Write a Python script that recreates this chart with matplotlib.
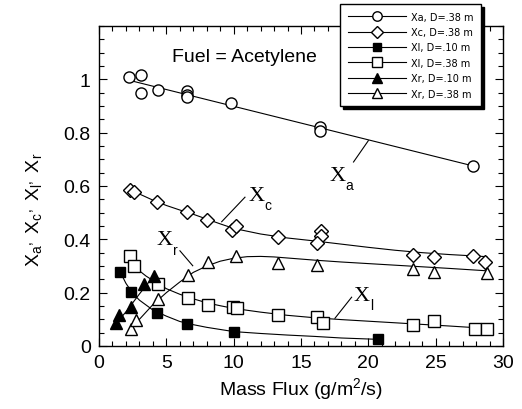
import matplotlib
matplotlib.use('Agg')
import matplotlib.pyplot as plt
from matplotlib.lines import Line2D
from matplotlib.ticker import MultipleLocator, FixedLocator, FixedFormatter

plt.rcParams['font.family'] = ['Liberation Sans', 'DejaVu Sans']
plt.rcParams['mathtext.fontset'] = 'custom'
plt.rcParams['mathtext.rm'] = 'Liberation Sans'
plt.rcParams['mathtext.it'] = 'Liberation Sans'

# ---------------- data ----------------
xa_x = [2.2, 3.15, 3.15, 4.4, 6.5, 6.5, 6.5, 9.8, 16.4, 16.4, 27.8]
xa_y = [1.007, 1.017, 0.95, 0.96, 0.955, 0.942, 0.932, 0.91, 0.822, 0.808, 0.675]
xa_fit_x = [2.2, 27.8]
xa_fit_y = [0.997, 0.675]

xc_x = [2.3, 2.6, 4.3, 6.55, 8.05, 9.9, 10.15, 13.3, 16.5, 16.5, 16.2, 23.3, 24.9, 27.8, 28.65]
xc_y = [0.586, 0.576, 0.541, 0.501, 0.474, 0.436, 0.449, 0.41, 0.432, 0.414, 0.386, 0.341, 0.335, 0.339, 0.316]
xc_fit_x = [2.3, 3, 4, 5, 6, 7, 8, 9, 10, 12, 14, 16, 18, 20, 22, 24, 26, 28.8]
xc_fit_y = [0.588, 0.570, 0.547, 0.527, 0.510, 0.494, 0.476, 0.458, 0.441, 0.420, 0.405, 0.394,
            0.382, 0.370, 0.359, 0.350, 0.343, 0.335]

xl10_x = [1.55, 2.35, 4.3, 6.55, 10.0, 20.7]
xl10_y = [0.279, 0.201, 0.124, 0.082, 0.051, 0.026]
xl10_fit_x = [1.5, 2, 2.5, 3, 4, 5, 6, 7, 8, 10, 12, 14, 16, 18, 20.7]
xl10_fit_y = [0.285, 0.235, 0.198, 0.172, 0.135, 0.112, 0.092, 0.080, 0.070, 0.054, 0.047,
              0.041, 0.036, 0.030, 0.025]

xl38_x = [2.3, 2.62, 4.35, 6.58, 8.1, 9.92, 10.27, 13.3, 16.2, 16.6, 23.3, 24.9, 27.9, 28.8]
xl38_y = [0.336, 0.299, 0.232, 0.179, 0.154, 0.145, 0.141, 0.117, 0.108, 0.086, 0.080, 0.095, 0.064, 0.064]
xl38_fit_x = [2.3, 2.7, 3, 3.5, 4, 5, 6, 7, 8, 9, 10, 12, 14, 16, 18, 20, 22, 24, 26, 28.8]
xl38_fit_y = [0.336, 0.300, 0.282, 0.262, 0.246, 0.215, 0.194, 0.177, 0.162, 0.151, 0.141,
              0.127, 0.115, 0.106, 0.099, 0.093, 0.087, 0.081, 0.075, 0.066]

xr10_x = [1.26, 1.51, 2.35, 3.34, 4.1]
xr10_y = [0.086, 0.117, 0.147, 0.232, 0.264]
xr10_fit_x = [1.2, 2.0, 3.0, 4.1]
xr10_fit_y = [0.080, 0.128, 0.195, 0.265]

xr38_x = [2.35, 2.72, 4.35, 6.58, 8.1, 10.15, 13.3, 16.2, 23.3, 24.9, 28.8]
xr38_y = [0.064, 0.097, 0.176, 0.266, 0.314, 0.339, 0.31, 0.304, 0.289, 0.276, 0.274]
xr38_fit_x = [2.4, 3, 4, 5, 6, 7, 8, 9, 10, 11, 12, 13, 14, 16, 18, 20, 22, 24, 26, 28.8]
xr38_fit_y = [0.065, 0.100, 0.155, 0.200, 0.240, 0.276, 0.300, 0.318, 0.329, 0.335, 0.336,
              0.334, 0.330, 0.322, 0.315, 0.309, 0.303, 0.297, 0.291, 0.282]

legend_labels = ['Xa, D=.38 m', 'Xc, D=.38 m', 'Xl, D=.10 m', 'Xl, D=.38 m', 'Xr, D=.10 m', 'Xr, D=.38 m']
yticks = [0, 0.2, 0.4, 0.6, 0.8, 1.0]
ytick_labels = ['0', '0.2', '0.4', '0.6', '0.8', '1']
xticks = [0, 5, 10, 15, 20, 25, 30]

# ---------------- figure ----------------
fig = plt.figure(figsize=(5.22, 4.10), dpi=100)
ax = fig.add_axes([99/522, 63/410, 404/522, 320/410])

lw = 0.8
styles = [
    dict(marker='o', ms=8, mfc='white'),
    dict(marker='D', ms=7, mfc='white'),
    dict(marker='s', ms=7, mfc='black'),
    dict(marker='s', ms=8, mfc='white'),
    dict(marker='^', ms=8, mfc='black'),
    dict(marker='^', ms=8, mfc='white'),
]
series = [(xa_x, xa_y, xa_fit_x, xa_fit_y), (xc_x, xc_y, xc_fit_x, xc_fit_y),
          (xl10_x, xl10_y, xl10_fit_x, xl10_fit_y), (xl38_x, xl38_y, xl38_fit_x, xl38_fit_y),
          (xr10_x, xr10_y, xr10_fit_x, xr10_fit_y), (xr38_x, xr38_y, xr38_fit_x, xr38_fit_y)]

for (px, py, fx, fy), st in zip(series, styles):
    ax.plot(fx, fy, color='black', lw=lw, zorder=2)
    ax.plot(px, py, ls='none', color='black', mec='black', mew=1.0, zorder=3, **st)

ax.set_xlim(0, 30)
ax.set_ylim(0, 1.2)
ax.xaxis.set_major_locator(FixedLocator(xticks))
ax.xaxis.set_minor_locator(MultipleLocator(1))
ax.yaxis.set_major_locator(FixedLocator(yticks))
ax.yaxis.set_major_formatter(FixedFormatter(ytick_labels))
ax.yaxis.set_minor_locator(MultipleLocator(0.05))
ax.tick_params(which='both', direction='in', top=True, right=True, width=0.8)
ax.tick_params(which='major', length=6, labelsize=14, pad=6)
ax.tick_params(which='minor', length=3.5)
for s in ax.spines.values():
    s.set_linewidth(1.0)

ax.set_xlabel('Mass Flux (g/m$^2$/s)', fontsize=14, labelpad=3)
ax.set_ylabel('X$_\\mathregular{a}$$^,$ X$_\\mathregular{c}$$^,$ X$_\\mathregular{l}$$^,$ X$_\\mathregular{r}$',
              fontsize=14)
ax.yaxis.set_label_coords(-0.135, 0.43)

ax.text(10.77, 1.069, 'Fuel = Acetylene', fontsize=14, ha='center', va='baseline')

# curve labels with leader lines
def curve_label(xc, yc, sub, sx, sy, l0, l1):
    ax.text(xc, yc, 'X', family='Liberation Serif', fontsize=16, ha='center', va='center')
    ax.text(sx, sy, sub, fontsize=10, ha='left', va='center')
    ax.plot([l0[0], l1[0]], [l0[1], l1[1]], color='black', lw=lw)

curve_label(11.73, 0.566, 'c', 12.3, 0.528, (9.11, 0.466), (10.84, 0.558))
curve_label(4.9, 0.401, 'r', 5.5, 0.36, (6.01, 0.357), (6.96, 0.301))
curve_label(19.52, 0.191, 'l', 20.1, 0.152, (17.52, 0.104), (18.76, 0.183))
curve_label(17.74, 0.641, 'a', 18.3, 0.603, (18.9, 0.69), (20.0, 0.77))

# legend
handles = [Line2D([], [], color='black', lw=lw, mec='black', mew=1.0, **st) for st in styles]
leg = fig.legend(handles, legend_labels, loc='upper left',
                 bbox_to_anchor=(340/522, 1 - 5/410), bbox_transform=fig.transFigure,
                 frameon=True, fancybox=False, shadow={'color': 'black', 'alpha': 1},
                 prop={'family': 'DejaVu Sans', 'size': 7}, handlelength=6,
                 handletextpad=0.5, labelspacing=0.55, borderpad=0.8, borderaxespad=0,
                 edgecolor='black', framealpha=1, markerscale=0.85)
leg.get_frame().set_linewidth(1.0)

fig.savefig('out.png', dpi=100)
